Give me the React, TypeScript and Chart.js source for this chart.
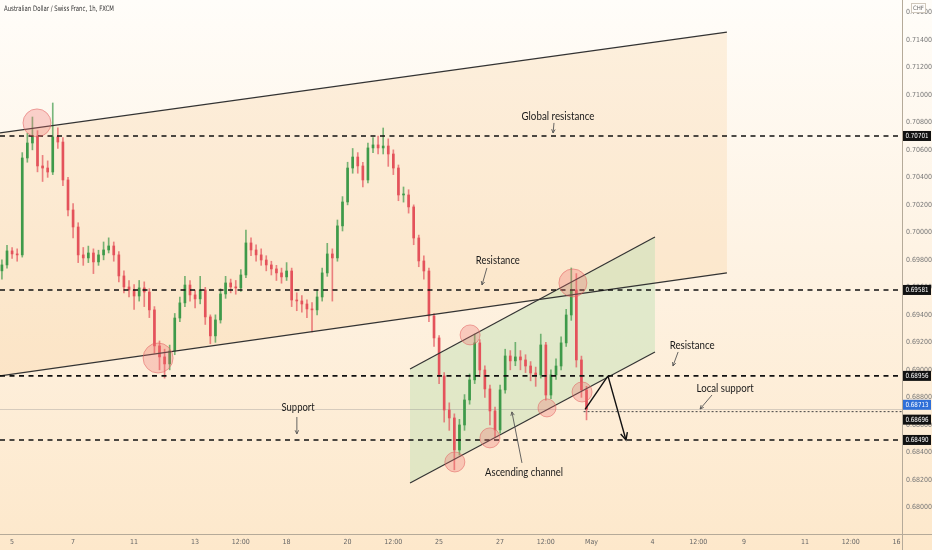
import React, { useEffect, useRef } from 'react';
import { Chart, registerables } from 'chart.js';
Chart.register(...registerables);

// ---- Candles (4h aggregation), prices in CHF ----
const firstOpen = 0.6972;
const startDay = -0.33;
const barDays = 1 / 6;

const closes = [
  0.69763, 0.69865, 0.69843, 0.69836, 0.70541, 0.7065, 0.70701, 0.70483, 0.70468, 0.70439,
  0.70694, 0.70657, 0.70381, 0.70163, 0.70039, 0.69836, 0.69814, 0.6985, 0.69785, 0.69836,
  0.69872, 0.69901, 0.69836, 0.69683, 0.69603, 0.69581, 0.69537, 0.69596, 0.69566, 0.69436,
  0.69174, 0.69094, 0.69043, 0.69137, 0.69377, 0.69487, 0.69617, 0.69545, 0.69516, 0.69581,
  0.69385, 0.69247, 0.69363, 0.69552, 0.69632, 0.69603, 0.69596, 0.6969, 0.69923, 0.69872,
  0.69836, 0.69799, 0.69763, 0.69734, 0.69705, 0.69676, 0.69719, 0.69508, 0.69501, 0.69479,
  0.69443, 0.69436, 0.6953, 0.69705, 0.69843, 0.69814, 0.70047, 0.70221, 0.70468, 0.70548,
  0.70483, 0.70381, 0.70614, 0.70636, 0.70614, 0.70628, 0.7057, 0.70468, 0.70272, 0.70272,
  0.70185, 0.69959, 0.69792, 0.69719, 0.69392, 0.69232, 0.68956, 0.68708, 0.6865, 0.68417,
  0.68599, 0.68781, 0.68927, 0.69196, 0.68999, 0.68861, 0.68701, 0.68563, 0.68854, 0.69101,
  0.69065, 0.69094, 0.69072, 0.69028, 0.68977, 0.68963, 0.69181, 0.68817, 0.68963, 0.69028,
  0.69196, 0.69399, 0.69581, 0.69072, 0.68854, 0.68713,
];
const highs = [
  0.698, 0.69905, 0.6989, 0.6988, 0.7058, 0.7072, 0.70839, 0.7074, 0.7056, 0.7052,
  0.70941, 0.7076, 0.7069, 0.704, 0.7021, 0.7007, 0.6989, 0.699, 0.6988, 0.6987,
  0.6993, 0.6996, 0.6993, 0.6986, 0.6972, 0.6965, 0.6962, 0.6965, 0.6964, 0.6959,
  0.6946, 0.6921, 0.6915, 0.6918, 0.6941, 0.6953, 0.6968, 0.6965, 0.6958, 0.6968,
  0.696, 0.694, 0.694, 0.6959, 0.6968, 0.6966, 0.6965, 0.6973, 0.70017, 0.6996,
  0.6991, 0.6988, 0.6983, 0.6979, 0.6976, 0.6974, 0.6978, 0.6974, 0.6956, 0.6954,
  0.6951, 0.6949, 0.6958, 0.6974, 0.6992, 0.6988, 0.7009, 0.7026, 0.7051, 0.7061,
  0.7058, 0.7051, 0.7065, 0.7069, 0.707, 0.70759, 0.7068, 0.706, 0.7049, 0.7033,
  0.7031, 0.702, 0.6998, 0.6983, 0.6974, 0.6941, 0.6925, 0.6898, 0.6876, 0.6868,
  0.6864, 0.6882, 0.6897, 0.6926, 0.6922, 0.6903, 0.6889, 0.6873, 0.6889, 0.6915,
  0.6914, 0.692, 0.6914, 0.6911, 0.6906, 0.6902, 0.6926, 0.692, 0.69, 0.6908,
  0.6924, 0.6944, 0.69741, 0.697, 0.691, 0.6888,
];
const lows = [
  0.6966, 0.6974, 0.6981, 0.6979, 0.6982, 0.7051, 0.706, 0.7044, 0.7037, 0.704,
  0.7042, 0.7061, 0.7034, 0.7012, 0.6996, 0.6978, 0.6976, 0.6978, 0.697, 0.6976,
  0.698, 0.6985, 0.6979, 0.6964, 0.6956, 0.6953, 0.6944, 0.695, 0.6946, 0.6938,
  0.6912, 0.69, 0.6894, 0.69, 0.6911, 0.6935, 0.6946, 0.695, 0.6945, 0.6948,
  0.6933, 0.6919, 0.692, 0.6934, 0.6952, 0.6956, 0.6955, 0.6957, 0.6967, 0.6983,
  0.6979, 0.6976, 0.6972, 0.6969, 0.6965, 0.6963, 0.6965, 0.6946, 0.6943, 0.6942,
  0.6938, 0.69276, 0.694, 0.695, 0.6968, 0.695, 0.6979, 0.7001, 0.702, 0.7043,
  0.7043, 0.7033, 0.7036, 0.7058, 0.7057, 0.7057, 0.7048, 0.7042, 0.7023, 0.7022,
  0.7014, 0.6991, 0.6975, 0.6966, 0.6935, 0.6917, 0.689, 0.6862, 0.6856, 0.68273,
  0.6838, 0.6856, 0.6875, 0.689, 0.6895, 0.688, 0.686, 0.68513, 0.6854, 0.6883,
  0.69, 0.6903, 0.69, 0.6898, 0.6892, 0.6888, 0.6894, 0.6878, 0.6879, 0.6893,
  0.69, 0.6917, 0.6936, 0.6902, 0.688, 0.68636,
];

// ---- Axes ----
const xTickDays = [0, 2, 4, 6, 7.5, 9, 11, 12.5, 14, 16, 17.5, 19, 21, 22.5, 24, 26, 27.5, 29];
const xTickLabels = ['5', '7', '11', '13', '12:00', '18', '20', '12:00', '25', '27', '12:00', 'May', '4', '12:00', '9', '11', '12:00', '16'];
const yTickValues = [0.68, 0.682, 0.684, 0.686, 0.688, 0.69, 0.692, 0.694, 0.696, 0.698, 0.7, 0.702, 0.704, 0.706, 0.708, 0.71, 0.712, 0.714, 0.716];
const xMin = -0.393;
const xMax = 29.18;
const yMin = 0.67806;
const yMax = 0.7169;

// ---- Drawings (in days / price) ----
const levels = [0.70701, 0.69581, 0.68956, 0.6849];
const localSupport = 0.68696;
const localSupportFrom = 18.74;
const lastPrice = 0.68713;
const bigUpper = [[-0.393, 0.70723], [23.44, 0.71457]];
const bigLower = [[-0.393, 0.68956], [23.44, 0.69705]];
const greenUpper = [[13.05, 0.69006], [21.08, 0.69966]];
const greenLower = [[13.05, 0.68177], [21.08, 0.6913]];
const circleDays = [0.82, 4.79, 15.02, 14.52, 15.67, 17.54, 18.39, 18.69];
const circlePrices = [0.70796, 0.69086, 0.69254, 0.6833, 0.68505, 0.68723, 0.69632, 0.68839];
const circleRadii = [14, 15, 10, 10, 10, 9, 14, 10];
const pathDays = [18.79, 19.54, 20.13];
const pathPrices = [0.68713, 0.68956, 0.6849];
const noteTexts = ['Global resistance', 'Resistance', 'Resistance', 'Local support', 'Support', 'Ascending channel'];
const noteDays = [17.9, 15.93, 22.3, 23.38, 9.38, 16.79];
const notePrices = [0.70846, 0.69799, 0.69181, 0.68868, 0.68723, 0.68257];
const noteWidths = [73, 44, 45, 57, 33, 78];
const noteArrowFrom = [[17.77, 0.70796], [15.57, 0.69741], [21.84, 0.6913], [22.95, 0.68817], [9.34, 0.68657], [16.72, 0.68323]];
const noteArrowTo = [[17.74, 0.70723], [15.41, 0.69617], [21.67, 0.69028], [22.56, 0.68715], [9.34, 0.68534], [16.39, 0.68694]];

const GREEN = '#3f9a4a';
const RED = '#e4535b';
const NARROW = "'Liberation Sans Narrow', 'DejaVu Sans Condensed', sans-serif";

function drawArrow(ctx: CanvasRenderingContext2D, x1: number, y1: number, x2: number, y2: number, head: number) {
  ctx.beginPath();
  ctx.moveTo(x1, y1);
  ctx.lineTo(x2, y2);
  ctx.stroke();
  const a = Math.atan2(y2 - y1, x2 - x1);
  ctx.beginPath();
  ctx.moveTo(x2 - head * Math.cos(a - 0.45), y2 - head * Math.sin(a - 0.45));
  ctx.lineTo(x2, y2);
  ctx.lineTo(x2 - head * Math.cos(a + 0.45), y2 - head * Math.sin(a + 0.45));
  ctx.stroke();
}

const zeroPad = (s: any) => {
  s.paddingLeft = 0;
  s.paddingRight = 0;
  s.paddingTop = 0;
  s.paddingBottom = 0;
};

const overlay = {
  id: 'overlay',
  beforeDraw(chart: any) {
    const { ctx, width, height } = chart;
    const g = ctx.createLinearGradient(0, 0, 0, height);
    g.addColorStop(0, '#fffdf9');
    g.addColorStop(0.45, '#fef3e4');
    g.addColorStop(1, '#fde8cb');
    ctx.save();
    ctx.fillStyle = g;
    ctx.fillRect(0, 0, width, height);
    ctx.restore();
  },
  beforeDatasetsDraw(chart: any) {
    const { ctx, chartArea: a } = chart;
    const X = (v: number) => chart.scales.x.getPixelForValue(v);
    const Y = (v: number) => chart.scales.y.getPixelForValue(v);
    ctx.save();
    ctx.beginPath();
    ctx.rect(a.left, a.top, a.right - a.left, a.bottom - a.top);
    ctx.clip();
    ctx.beginPath();
    ctx.moveTo(X(bigUpper[0][0]), Y(bigUpper[0][1]));
    ctx.lineTo(X(bigUpper[1][0]), Y(bigUpper[1][1]));
    ctx.lineTo(X(bigLower[1][0]), Y(bigLower[1][1]));
    ctx.lineTo(X(bigLower[0][0]), Y(bigLower[0][1]));
    ctx.closePath();
    ctx.fillStyle = 'rgba(248,196,130,0.22)';
    ctx.fill();
    ctx.beginPath();
    ctx.moveTo(X(greenUpper[0][0]), Y(greenUpper[0][1]));
    ctx.lineTo(X(greenUpper[1][0]), Y(greenUpper[1][1]));
    ctx.lineTo(X(greenLower[1][0]), Y(greenLower[1][1]));
    ctx.lineTo(X(greenLower[0][0]), Y(greenLower[0][1]));
    ctx.closePath();
    ctx.fillStyle = 'rgba(190,224,180,0.45)';
    ctx.fill();
    ctx.strokeStyle = 'rgba(140,140,140,0.35)';
    ctx.lineWidth = 1;
    ctx.beginPath();
    const ly = Math.round(Y(lastPrice)) + 0.5;
    ctx.moveTo(a.left, ly);
    ctx.lineTo(a.right, ly);
    ctx.stroke();
    ctx.restore();
  },
  afterDatasetsDraw(chart: any) {
    const { ctx, chartArea: a } = chart;
    const X = (v: number) => chart.scales.x.getPixelForValue(v);
    const Y = (v: number) => chart.scales.y.getPixelForValue(v);
    ctx.save();
    ctx.beginPath();
    ctx.rect(a.left, a.top, a.right - a.left, a.bottom - a.top);
    ctx.clip();
    ctx.strokeStyle = '#333';
    ctx.lineWidth = 1.2;
    [bigUpper, bigLower, greenUpper, greenLower].forEach((ln) => {
      ctx.beginPath();
      ctx.moveTo(X(ln[0][0]), Y(ln[0][1]));
      ctx.lineTo(X(ln[1][0]), Y(ln[1][1]));
      ctx.stroke();
    });
    ctx.strokeStyle = '#111';
    ctx.lineWidth = 1.6;
    ctx.setLineDash([5, 4.5]);
    levels.forEach((lv) => {
      const y = Y(lv);
      ctx.beginPath();
      ctx.moveTo(a.left, y);
      ctx.lineTo(a.right, y);
      ctx.stroke();
    });
    ctx.lineWidth = 1;
    ctx.strokeStyle = '#444';
    ctx.setLineDash([2, 2]);
    ctx.beginPath();
    ctx.moveTo(X(localSupportFrom), Y(localSupport));
    ctx.lineTo(a.right, Y(localSupport));
    ctx.stroke();
    ctx.setLineDash([]);
    circleDays.forEach((d, i) => {
      ctx.beginPath();
      ctx.arc(X(d), Y(circlePrices[i]), circleRadii[i], 0, Math.PI * 2);
      ctx.fillStyle = 'rgba(238,112,112,0.3)';
      ctx.fill();
      ctx.strokeStyle = 'rgba(226,96,96,0.55)';
      ctx.lineWidth = 1;
      ctx.stroke();
    });
    ctx.strokeStyle = '#111';
    ctx.lineWidth = 1.4;
    ctx.beginPath();
    ctx.moveTo(X(pathDays[0]), Y(pathPrices[0]));
    ctx.lineTo(X(pathDays[1]), Y(pathPrices[1]));
    ctx.stroke();
    drawArrow(ctx, X(pathDays[1]), Y(pathPrices[1]), X(pathDays[2]), Y(pathPrices[2]), 8);
    ctx.strokeStyle = '#555';
    ctx.lineWidth = 0.9;
    noteArrowFrom.forEach((f, i) => {
      drawArrow(ctx, X(f[0]), Y(f[1]), X(noteArrowTo[i][0]), Y(noteArrowTo[i][1]), 4);
    });
    ctx.fillStyle = '#1a1a1a';
    ctx.font = "11px Lato, 'Open Sans', sans-serif";
    ctx.textAlign = 'center';
    ctx.textBaseline = 'middle';
    noteTexts.forEach((t, i) => {
      ctx.fillText(t, X(noteDays[i]), Y(notePrices[i]), noteWidths[i]);
    });
    ctx.restore();
  },
  afterDraw(chart: any) {
    const { ctx, chartArea: a, width, height } = chart;
    const Y = (v: number) => chart.scales.y.getPixelForValue(v);
    ctx.save();
    ctx.strokeStyle = '#b5aa99';
    ctx.lineWidth = 1;
    ctx.beginPath();
    ctx.moveTo(a.right + 0.5, 0);
    ctx.lineTo(a.right + 0.5, height);
    ctx.moveTo(0, a.bottom + 0.5);
    ctx.lineTo(width, a.bottom + 0.5);
    ctx.stroke();
    ctx.font = `7px ${NARROW}`;
    ctx.textAlign = 'left';
    ctx.textBaseline = 'middle';
    const box = (v: number, bg: string, dy: number) => {
      const y = Y(v) + dy;
      ctx.fillStyle = bg;
      ctx.fillRect(a.right + 1, y - 5, 28, 10);
      ctx.fillStyle = '#fff';
      ctx.fillText(v.toFixed(5), a.right + 3.5, y + 0.5, 23);
    };
    box(levels[0], '#111', 0);
    box(levels[1], '#111', 0);
    box(levels[2], '#111', 0);
    box(lastPrice, '#2f6fd8', -4.5);
    box(localSupport, '#111', 8);
    box(levels[3], '#111', 0);
    ctx.fillStyle = '#fffdfa';
    ctx.fillRect(a.right + 9, 3, 15, 10);
    ctx.strokeStyle = '#d0c8bc';
    ctx.strokeRect(a.right + 9.5, 3.5, 14, 9);
    ctx.fillStyle = '#666';
    ctx.font = `6px ${NARROW}`;
    ctx.textAlign = 'center';
    ctx.fillText('CHF', a.right + 16.5, 8.5);
    ctx.fillStyle = '#333';
    ctx.font = `7.5px ${NARROW}`;
    ctx.textAlign = 'left';
    ctx.fillText('Australian Dollar / Swiss Franc, 1h, FXCM', 4, 9.5, 110);
    ctx.restore();
  },
};

export default function App() {
  const ref = useRef<HTMLCanvasElement | null>(null);
  useEffect(() => {
    document.body.style.margin = '0';
    const canvas = ref.current;
    if (!canvas) return;
    const candles = closes.map((c, i) => {
      const o = i === 0 ? firstOpen : closes[i - 1];
      return { x: startDay + i * barDays, o, c, h: highs[i], l: lows[i] };
    });
    const up = candles.map((k) => k.c >= k.o);
    const chart = new Chart(canvas, {
      type: 'bar',
      data: {
        datasets: [
          {
            data: candles.map((k) => ({ x: k.x, y: [k.l, k.h] })) as any,
            backgroundColor: up.map((u) => (u ? 'rgba(63,154,74,0.7)' : 'rgba(228,83,91,0.7)')),
            barThickness: 1,
            grouped: false,
          } as any,
          {
            data: candles.map((k) => ({ x: k.x, y: [Math.min(k.o, k.c), Math.max(k.o, k.c)] })) as any,
            backgroundColor: up.map((u) => (u ? GREEN : RED)),
            barThickness: 2,
            minBarLength: 1,
            grouped: false,
          } as any,
        ],
      },
      options: {
        animation: false,
        responsive: false,
        events: [],
        layout: { padding: 0 },
        plugins: { legend: { display: false }, tooltip: { enabled: false }, title: { display: false } },
        scales: {
          x: {
            type: 'linear',
            offset: false,
            min: xMin,
            max: xMax,
            grid: { display: false, drawTicks: false },
            border: { display: false },
            afterBuildTicks: (s: any) => {
              s.ticks = xTickDays.map((v) => ({ value: v }));
            },
            afterFit: (s: any) => {
              s.height = 16;
              zeroPad(s);
            },
            ticks: {
              autoSkip: false,
              maxRotation: 0,
              padding: 4,
              color: '#666',
              font: { size: 7, family: NARROW },
              callback: (_v: any, i: number) => xTickLabels[i],
            },
          },
          y: {
            type: 'linear',
            position: 'right',
            offset: false,
            min: yMin,
            max: yMax,
            grid: { display: false, drawTicks: false },
            border: { display: false },
            afterBuildTicks: (s: any) => {
              s.ticks = yTickValues.map((v) => ({ value: v }));
            },
            afterFit: (s: any) => {
              s.width = 30;
              zeroPad(s);
            },
            ticks: {
              autoSkip: false,
              padding: 4,
              color: '#777',
              font: { size: 7, family: NARROW },
              callback: (v: any) => Number(v).toFixed(5),
            },
          },
        },
      } as any,
      plugins: [overlay as any],
    });
    return () => chart.destroy();
  }, []);
  return (
    <div style={{ width: 932, height: 550 }}>
      <canvas ref={ref} width={932} height={550} style={{ display: 'block' }} />
    </div>
  );
}
